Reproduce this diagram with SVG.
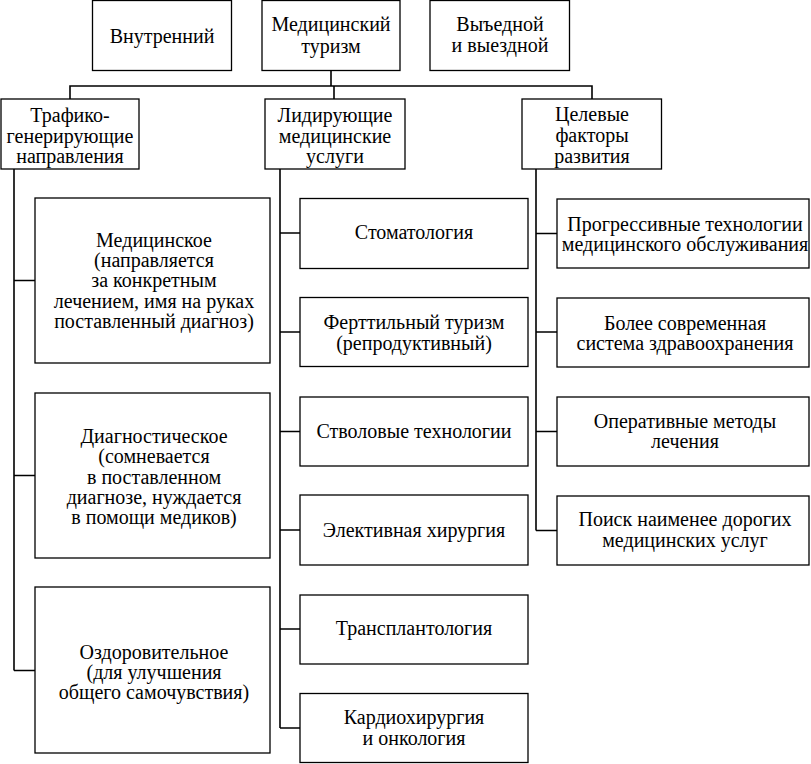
<svg xmlns="http://www.w3.org/2000/svg" width="811" height="764" viewBox="0 0 811 764">
<style>
rect.b{fill:#fff;stroke:#000;stroke-width:1.3}
text{font-family:'Liberation Serif','Times New Roman',serif;font-size:20px;fill:#000;text-anchor:middle}
#connectors path{fill:none;stroke:#000;stroke-width:1.6}
</style>
<rect width="811" height="764" fill="#fff"/>
<g id="connectors">
<path d="M331,70V86M70,99V86H592V99M334,86V99"/>
<path d="M14,169V670.5M14,280.5H35M14,475.5H35M14,670.5H35"/>
<path d="M280,169V728M280,233H300M280,332H300M280,431.5H300M280,530H300M280,629H300M280,728H300"/>
<path d="M536,169V530.5M536,233.5H557M536,332H557M536,431.5H557M536,530.5H557"/>
</g>
<g id="n-vnutr"><rect class="b" x="92.5" y="0.5" width="139" height="70"/><text x="162" y="42.5">Внутренний</text></g>
<g id="n-med"><rect class="b" x="262" y="0.5" width="138" height="70"/><text x="331" y="31">Медицинский</text><text x="331" y="52.5">туризм</text></g>
<g id="n-vyezd"><rect class="b" x="430" y="0.5" width="139.5" height="70"/><text x="500" y="31">Выъедной</text><text x="500" y="52">и выездной</text></g>
<g id="n-traf"><rect class="b" x="1" y="99" width="138" height="70"/><text x="70" y="121.5">Трафико-</text><text x="70" y="142.5">генерирующие</text><text x="70" y="162.5">направления</text></g>
<g id="n-lid"><rect class="b" x="265" y="99" width="140" height="70"/><text x="335" y="121.5">Лидирующие</text><text x="335" y="142.5">медицинские</text><text x="335" y="162.5">услуги</text></g>
<g id="n-cel"><rect class="b" x="522" y="99" width="139.5" height="70"/><text x="592" y="120.5">Целевые</text><text x="592" y="141.5">факторы</text><text x="592" y="162.5">развития</text></g>
<g id="n-l1"><rect class="b" x="35" y="198" width="235" height="165"/><text x="154" y="246.5">Медицинское</text><text x="154" y="267">(направляется</text><text x="154" y="287">за конкретным</text><text x="154" y="307.5">лечением, имя на руках</text><text x="154" y="327.5">поставленный диагноз)</text></g>
<g id="n-l2"><rect class="b" x="35" y="393" width="235" height="165"/><text x="154" y="443">Диагностическое</text><text x="154" y="463">(сомневается</text><text x="154" y="483.5">в поставленном</text><text x="154" y="503.5">диагнозе, нуждается</text><text x="154" y="524">в помощи медиков)</text></g>
<g id="n-l3"><rect class="b" x="35" y="587" width="235" height="166"/><text x="154" y="659">Оздоровительное</text><text x="154" y="679">(для улучшения</text><text x="154" y="699">общего самочувствия)</text></g>
<g id="n-m1"><rect class="b" x="300" y="198.5" width="228" height="70"/><text x="414" y="239">Стоматология</text></g>
<g id="n-m2"><rect class="b" x="300" y="297.5" width="228" height="69"/><text x="414" y="328.5">Ферттильный туризм</text><text x="414" y="349.5">(репродуктивный)</text></g>
<g id="n-m3"><rect class="b" x="300" y="397" width="228" height="69"/><text x="414" y="437.5">Стволовые технологии</text></g>
<g id="n-m4"><rect class="b" x="300" y="495" width="228" height="70"/><text x="414" y="536.5">Элективная хирургия</text></g>
<g id="n-m5"><rect class="b" x="300" y="595" width="228" height="69"/><text x="414" y="634.5">Трансплантология</text></g>
<g id="n-m6"><rect class="b" x="300" y="693.5" width="228" height="69"/><text x="414" y="724">Кардиохирургия</text><text x="414" y="744.5">и онкология</text></g>
<g id="n-r1"><rect class="b" x="557" y="199" width="252" height="69"/><text x="685" y="230.5">Прогрессивные технологии</text><text x="685" y="251">медицинского обслуживания</text></g>
<g id="n-r2"><rect class="b" x="557" y="298" width="252" height="69"/><text x="685" y="329.5">Более современная</text><text x="685" y="349.5">система здравоохранения</text></g>
<g id="n-r3"><rect class="b" x="557" y="397" width="252" height="69"/><text x="685" y="427.5">Оперативные методы</text><text x="685" y="447.5">лечения</text></g>
<g id="n-r4"><rect class="b" x="557" y="496" width="252" height="69"/><text x="685" y="526">Поиск наименее дорогих</text><text x="685" y="546.5">медицинских услуг</text></g>
</svg>
